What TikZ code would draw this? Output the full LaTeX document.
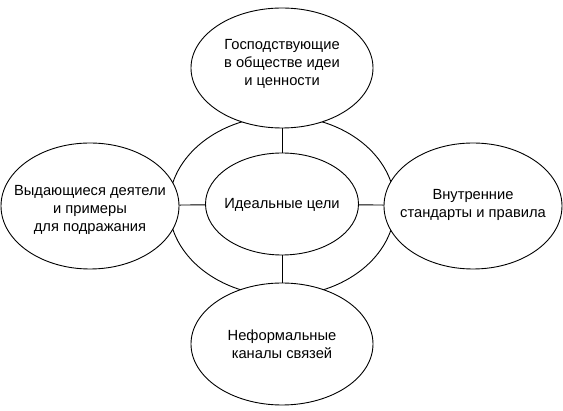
\documentclass[tikz,border=0pt]{standalone}
\usepackage{fontspec}
\setmainfont{Liberation Sans}
\usetikzlibrary{shapes.geometric}
\begin{document}
\begin{tikzpicture}[x=1pt,y=-1pt,
  ell/.style={draw,ellipse,line width=0.9pt,fill=white,inner sep=0pt},
  lbl/.style={align=center,inner sep=0pt,font=\fontsize{14.7}{18}\selectfont},
  conn/.style={line width=0.9pt}]
\useasboundingbox (0,0) rectangle (563,411);
\node[ell,minimum width=226,minimum height=180] (outer) at (282,206) {};
\node[ell,minimum width=182,minimum height=120] (top) at (282,68) {};
\node[ell,minimum width=178,minimum height=126] (left) at (90,206) {};
\node[ell,minimum width=178,minimum height=126] (right) at (473,206) {};
\node[ell,minimum width=182,minimum height=122] (bottom) at (282,344) {};
\node[ell,minimum width=153,minimum height=102] (inner) at (282,204) {};
\node[lbl] (toptxt) at (282,64) {Господствующие\\в обществе идеи\\и ценности};
\node[lbl] (lefttxt) at (90,210) {Выдающиеся деятели\\и примеры\\для подражания};
\node[lbl] (righttxt) at (473,205) {Внутренние\\стандарты и правила};
\node[lbl] (bottomtxt) at (282,344) {Неформальные\\каналы связей};
\node[lbl] (innertxt) at (282,205) {Идеальные цели};
\draw[conn] (top) -- (inner);
\draw[conn] (left) -- (inner);
\draw[conn] (right) -- (inner);
\draw[conn] (bottom) -- (inner);
\end{tikzpicture}
\end{document}
